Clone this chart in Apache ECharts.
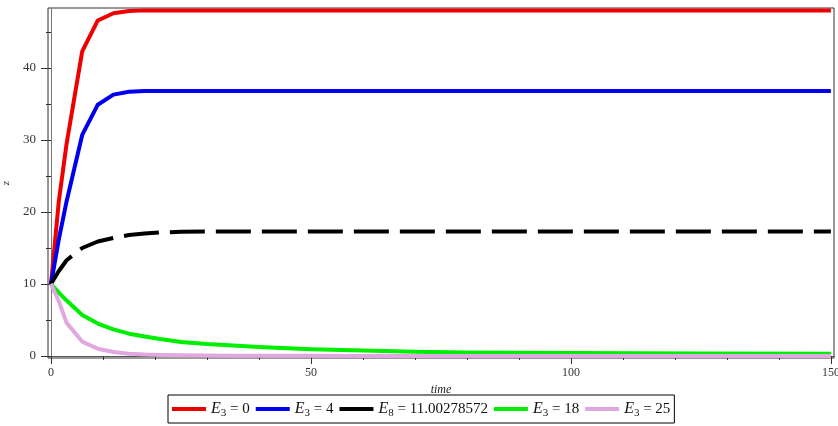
<!DOCTYPE html>
<html>
<head>
<meta charset="utf-8">
<style>
  html, body { margin: 0; padding: 0; background: #fff; }
  #chart { width: 838px; height: 426px; }
</style>
<script src="https://cdn.jsdelivr.net/npm/echarts@6/dist/echarts.min.js"></script>
</head>
<body>
<div id="chart"></div>
<script>
// Sample times shared by all curves
const time = [0, 1.5, 3, 6, 9, 12, 15, 18, 21, 25, 30, 35, 40, 50, 60, 70, 80, 100, 125, 150];

// z(t) for each parameter value
const zE3_0  = [10, 21.5, 29.5, 42.3, 46.6, 47.6, 47.9, 48.0, 48.0, 48.0, 48.0, 48.0, 48.0, 48.0, 48.0, 48.0, 48.0, 48.0, 48.0, 48.0];
const zE3_4  = [10, 16.2, 21.5, 30.7, 34.9, 36.3, 36.7, 36.8, 36.8, 36.8, 36.8, 36.8, 36.8, 36.8, 36.8, 36.8, 36.8, 36.8, 36.8, 36.8];
const zE8    = [10, 11.8, 13.3, 15.0, 15.9, 16.4, 16.8, 17.0, 17.15, 17.25, 17.3, 17.3, 17.3, 17.3, 17.3, 17.3, 17.3, 17.3, 17.3, 17.3];
const zE3_18 = [10, 8.8, 7.7, 5.7, 4.5, 3.7, 3.1, 2.7, 2.35, 1.95, 1.65, 1.45, 1.25, 0.95, 0.75, 0.6, 0.5, 0.4, 0.35, 0.3];
const zE3_25 = [10, 7.6, 4.6, 2.0, 1.0, 0.55, 0.32, 0.2, 0.14, 0.09, 0.06, 0.04, 0.03, 0.02, 0.01, 0.01, 0, 0, 0, 0];

// Legend names: [subscript, value]
const seriesNames = ['E3 = 0', 'E3 = 4', 'E8 = 11.00278572', 'E3 = 18', 'E3 = 25'];
const legendParts = {
  'E3 = 0': ['3', '0'],
  'E3 = 4': ['3', '4'],
  'E8 = 11.00278572': ['8', '11.00278572'],
  'E3 = 18': ['3', '18'],
  'E3 = 25': ['3', '25']
};

// Axis ticks
const xMajorTicks = [0, 50, 100, 150];
const xMinorTicks = [10, 20, 30, 40, 60, 70, 80, 90, 110, 120, 130, 140];
const yMajorTicks = [0, 10, 20, 30, 40];
const yMinorTicks = [5, 15, 25, 35, 45];

const serif = '"Liberation Serif", "DejaVu Serif", serif';

function pairs(ys) {
  return time.map((t, i) => [t, ys[i]]);
}

const X_MIN = -0.58, X_MAX = 150.6;
const Y_MIN = -0.28, Y_MAX = 48.33;

const chart = echarts.init(document.getElementById('chart'), null, { renderer: 'canvas' });

function lineSeries(name, ys, color, type) {
  return {
    name: name,
    type: 'line',
    xAxisIndex: 0,
    yAxisIndex: 0,
    data: pairs(ys),
    showSymbol: false,
    symbol: 'none',
    smooth: false,
    animation: false,
    lineStyle: { color: color, width: 4, type: type || 'solid', cap: 'butt', join: 'round' },
    itemStyle: { color: color },
    z: 3
  };
}

chart.setOption({
  backgroundColor: '#ffffff',
  animation: false,
  grid: {
    left: 48, right: 4, top: 8, bottom: 68,
    outerBoundsMode: 'none',
    containLabel: false,
    show: true, borderColor: '#333', borderWidth: 1
  },
  xAxis: [
    {
      type: 'value', min: X_MIN, max: X_MAX,
      name: 'time', nameLocation: 'middle', nameGap: 26, nameMoveOverlap: false,
      nameTextStyle: { fontFamily: serif, fontStyle: 'italic', fontSize: 12, color: '#222' },
      axisLine: { show: true, lineStyle: { color: '#555', width: 1 } },
      axisTick: { show: true, length: 8, customValues: xMajorTicks, lineStyle: { color: '#333' } },
      axisLabel: { show: true, customValues: xMajorTicks, margin: 9, fontFamily: serif, fontSize: 12, color: '#333' },
      splitLine: { show: false }
    },
    {
      type: 'value', min: X_MIN, max: X_MAX, position: 'bottom', gridIndex: 0,
      axisLine: { show: false },
      axisTick: { show: true, length: 4, customValues: xMinorTicks, lineStyle: { color: '#333' } },
      axisLabel: { show: false },
      splitLine: { show: false }
    }
  ],
  yAxis: [
    {
      type: 'value', min: Y_MIN, max: Y_MAX,
      name: 'z', nameLocation: 'middle', nameGap: 36, nameRotate: 90, nameMoveOverlap: false,
      nameTextStyle: { fontFamily: serif, fontStyle: 'italic', fontSize: 11, color: '#222' },
      axisLine: { show: true, lineStyle: { color: '#777', width: 1 } },
      axisTick: { show: true, length: 10, customValues: yMajorTicks, lineStyle: { color: '#333' } },
      axisLabel: { show: true, customValues: yMajorTicks, margin: 12, fontFamily: serif, fontSize: 13, color: '#333' },
      splitLine: { show: false }
    },
    {
      type: 'value', min: Y_MIN, max: Y_MAX, position: 'left', gridIndex: 0,
      axisLine: { show: false },
      axisTick: { show: true, length: 5, customValues: yMinorTicks, lineStyle: { color: '#333' } },
      axisLabel: { show: false },
      splitLine: { show: false }
    }
  ],
  legend: {
    data: seriesNames,
    left: 168, top: 395,
    orient: 'horizontal',
    icon: 'rect',
    itemWidth: 34, itemHeight: 4,
    itemGap: 6,
    padding: [4, 4, 4, 4],
    borderColor: '#000', borderWidth: 1,
    backgroundColor: '#fff',
    formatter: function (name) {
      const p = legendParts[name];
      return '{e|E}{s|' + p[0] + '}{v| = ' + p[1] + '}';
    },
    textStyle: {
      fontFamily: serif, color: '#111',
      rich: {
        e: { fontFamily: serif, fontStyle: 'italic', fontSize: 16, color: '#111', lineHeight: 20 },
        s: { fontFamily: serif, fontSize: 11, color: '#111', padding: [9, 0, 0, 0], lineHeight: 20 },
        v: { fontFamily: serif, fontSize: 15, color: '#111', lineHeight: 20 }
      }
    }
  },
  series: [
    lineSeries(seriesNames[0], zE3_0, '#ee0000'),
    lineSeries(seriesNames[1], zE3_4, '#0000ee'),
    lineSeries(seriesNames[2], zE8, '#000000', [35, 11]),
    lineSeries(seriesNames[3], zE3_18, '#00ee00'),
    lineSeries(seriesNames[4], zE3_25, '#e0a8e0')
  ]
});
</script>
</body>
</html>
